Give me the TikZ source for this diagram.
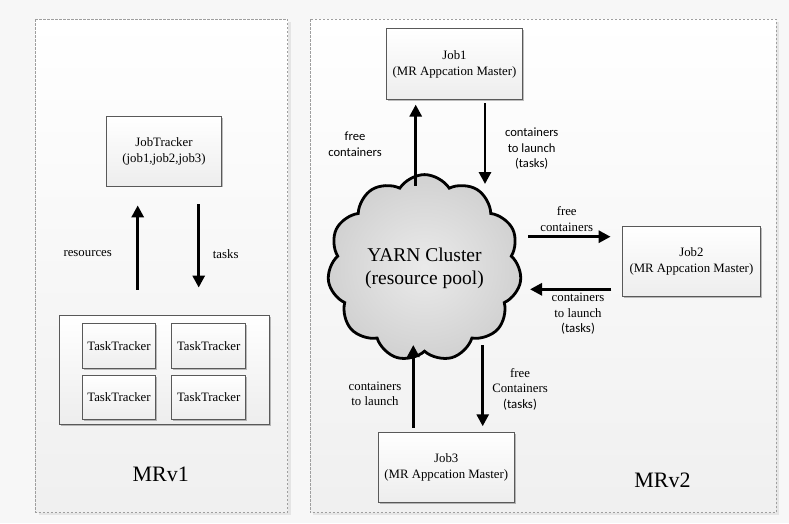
\documentclass[tikz,border=0pt]{standalone}
\usepackage{fontspec}
\setmainfont{Liberation Serif}
\newfontfamily\calfont{Carlito}
\usetikzlibrary{shapes.symbols,shadows,arrows.meta,calc}
\begin{document}
\begin{tikzpicture}[x=1pt,y=-1pt,
  panel/.style={draw=gray!75, dash pattern=on 2.5pt off 1.5pt, line width=0.7pt, top color=white, bottom color=gray!12},
  panelshadow/.style={fill=gray!20, draw=none},
  box/.style={draw=black!65, line width=0.9pt, top color=white, bottom color=gray!14,
    drop shadow={shadow xshift=1.5pt, shadow yshift=-1.5pt, opacity=0.25, fill=black},
    align=center, inner sep=0pt, font=\fontsize{12.8}{16}\selectfont},
  arr/.style={line width=2.9pt, -{Triangle[length=12pt,width=12pt]}},
  lbl/.style={align=center, inner sep=0pt, font=\fontsize{12.8}{15.5}\selectfont},
  clbl/.style={align=center, inner sep=0pt, font=\calfont\fontsize{12.6}{15.5}\selectfont},
  big/.style={inner sep=0pt, font=\fontsize{22}{26}\selectfont},
]
\useasboundingbox (0,0) rectangle (789,523);
\fill[gray!6] (0,0) rectangle (789,523);
% panels
\fill[panelshadow] (38.5,22) rectangle (290.5,515);
\fill[panelshadow] (313,22) rectangle (779,515);
\draw[panel] (35.7,19) rectangle (287.7,512);
\draw[panel] (310,19) rectangle (776,512.5);

% MRv1
\node[box, minimum width=114.6pt, minimum height=69.3pt] (jt) at (164,151.3) {JobTracker\\(job1,job2,job3)};
\node[box, minimum width=210pt, minimum height=109pt] (tt) at (164,369.5) {};
\node[box, minimum width=73.4pt, minimum height=45pt] (t1) at (119,345.8) {TaskTracker};
\node[box, minimum width=74pt, minimum height=45pt] (t2) at (208.7,345.8) {TaskTracker};
\node[box, minimum width=73.4pt, minimum height=44.3pt] (t3) at (119,397.2) {TaskTracker};
\node[box, minimum width=74pt, minimum height=44.3pt] (t4) at (208.7,397.2) {TaskTracker};
\draw[arr] ($(tt.north)+(-26.3,-25)$) -- ($(jt.south)+(-26.3,19)$);
\draw[arr] ($(jt.south)+(34.7,18)$) -- ($(tt.north)+(34.7,-27)$);
\node[lbl] (lres) at (87.7,254) {resources};
\node[lbl] (ltask) at (225.7,254) {tasks};
\node[big] (mr1) at (160.7,474.3) {MRv1};

% MRv2
\node[cloud, cloud puffs=11, cloud puff arc=115, draw=black, line width=2.8pt,
  inner color=gray!16, outer color=gray!36, minimum width=194pt, minimum height=147pt,
  inner sep=0pt, align=center, font=\fontsize{19.5}{23}\selectfont] (cloud) at (424.5,268) {YARN Cluster\\(resource pool)};
\node[box, minimum width=136.7pt, minimum height=70.3pt] (job1) at (454.5,64) {Job1\\(MR Appcation Master)};
\node[box, minimum width=137.3pt, minimum height=70pt] (job2) at (691.4,261.7) {Job2\\(MR Appcation Master)};
\node[box, minimum width=136pt, minimum height=70pt] (job3) at (446.3,467) {Job3\\(MR Appcation Master)};

\draw[arr] ($(cloud.center)+(-8.8,-82.3)$) -- ($(job1.south)+(-38.8,5)$);
\draw[arr] ($(job1.south)+(30.5,3.5)$) -- ($(cloud.center)+(60.5,-84)$);
\draw[arr] ($(cloud.center)+(103.5,-31.3)$) -- ($(job2.west)+(-11.7,-25)$);
\draw[arr] ($(job2.west)+(-11,27.6)$) -- ($(cloud.center)+(105.5,21.3)$);
\draw[arr] ($(job3.north)+(-33,-4)$) -- ($(cloud.center)+(-11.2,77)$);
\draw[arr] ($(cloud.center)+(58.2,77)$) -- ($(job3.north)+(36.4,-5.3)$);

\node[clbl] (l1) at (355,144) {free\\containers};
\node[clbl] (l2) at (531.7,149) {containers\\to launch\\(tasks)};
\node[lbl] (l3) at (566.7,219) {free\\containers};
\node[lbl] (l4) at (578,314) {containers\\to launch\\{\calfont (tasks)}};
\node[lbl] (l5) at (375,394) {containers\\to launch};
\node[lbl] (l6) at (520,389) {free\\Containers\\{\calfont (tasks)}};
\node[big] (mr2) at (662.5,480) {MRv2};
\end{tikzpicture}
\end{document}
